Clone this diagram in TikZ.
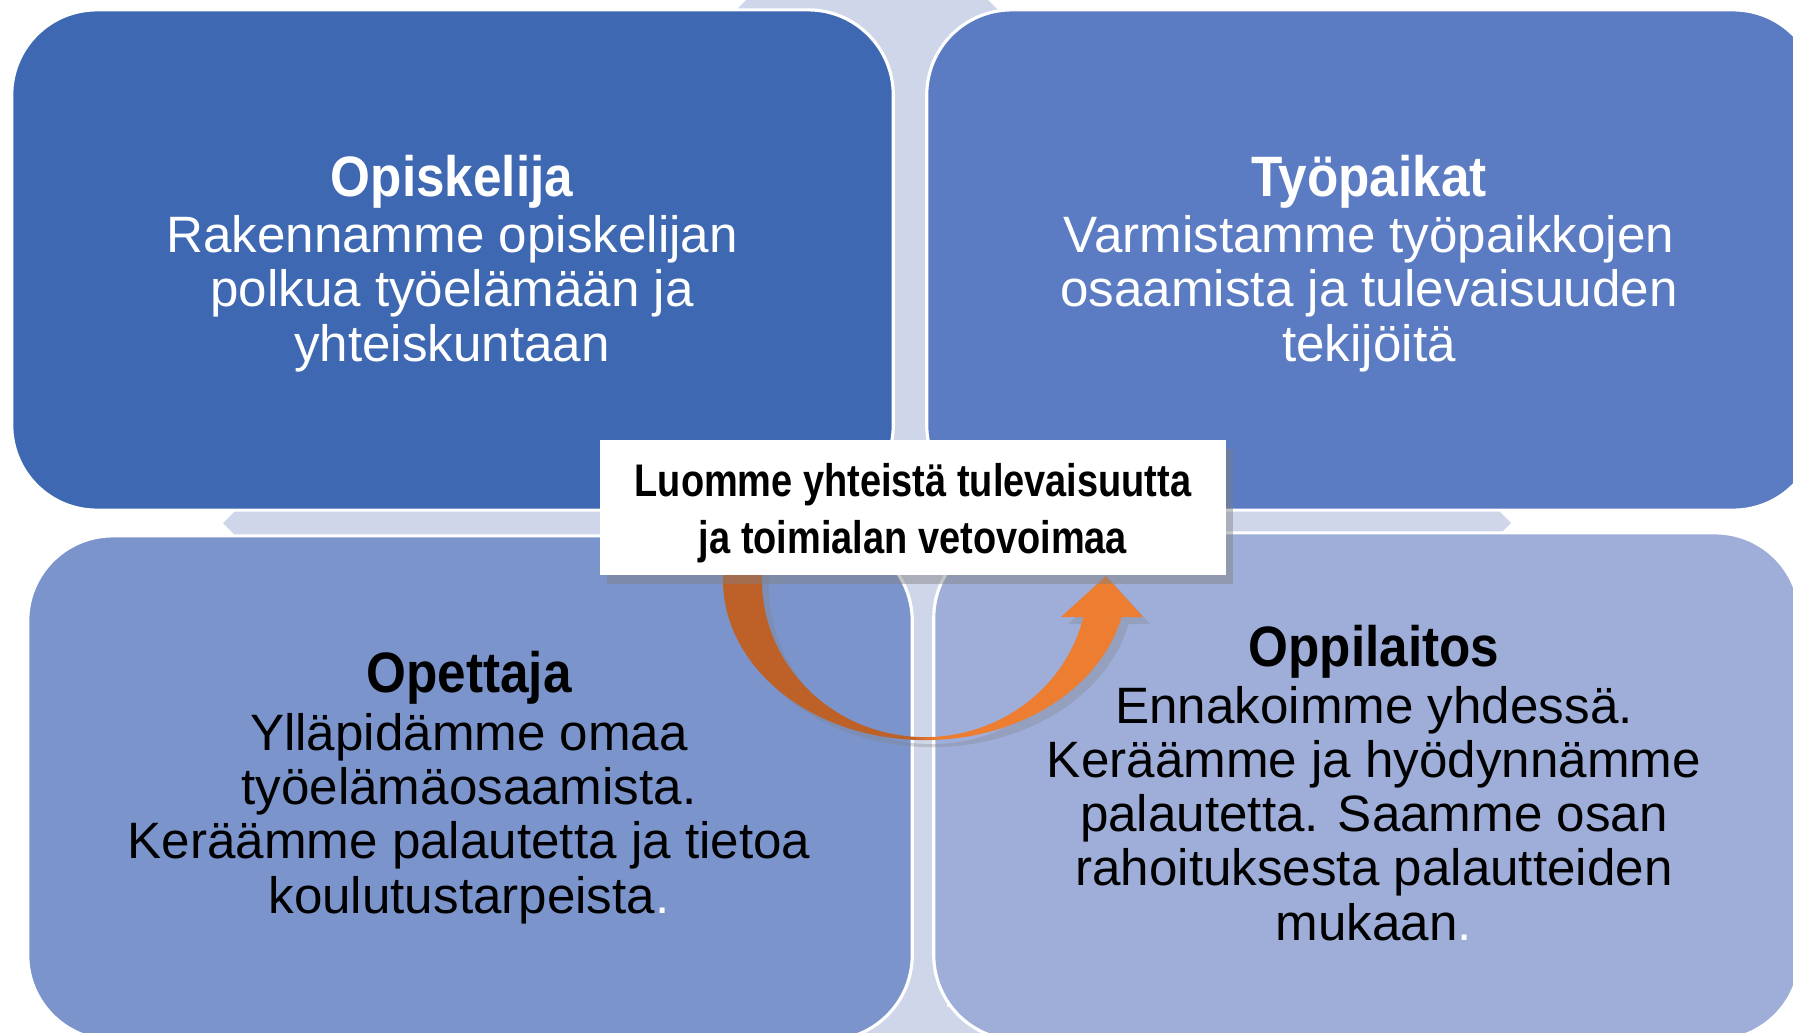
\documentclass[tikz,border=0pt]{standalone}
\usepackage{fontspec}
\setmainfont{Liberation Sans}
\newfontfamily\condfont[FakeStretch=0.9]{Liberation Sans}
\newfontfamily\narrowfont[FakeStretch=0.83]{Liberation Sans}
\usetikzlibrary{shadows}

\definecolor{tileA}{HTML}{3E68B1}
\definecolor{tileB}{HTML}{5B7BC3}
\definecolor{tileC}{HTML}{7B95CC}
\definecolor{tileD}{HTML}{9EAED8}
\definecolor{crossbg}{HTML}{CFD6EA}
\definecolor{arrowdark}{HTML}{BE6128}
\definecolor{arrowlight}{HTML}{ED7D31}
\pgfdeclarehorizontalshading{arrowshade}{100bp}{color(0bp)=(arrowdark); color(48bp)=(arrowdark); color(51bp)=(arrowlight); color(100bp)=(arrowlight)}

\newcommand{\bodytext}{\fontsize{14.55}{15.37}\selectfont}
\newcommand{\titletext}{\condfont\bfseries\fontsize{16.2}{16.2}\selectfont}
\newcommand{\centertext}{\narrowfont\bfseries\fontsize{13}{16.2}\selectfont}

\begin{document}
\begin{tikzpicture}[x=0.01cm, y=0.01cm,
	tile/.style={draw=white, line width=0.9pt, rounded corners=0.85cm, inner sep=0pt},
	blocktext/.style={align=center, anchor=base, font=\bodytext}]
	\useasboundingbox (0,0) rectangle (1793,1032);

	% Tausta
	\begin{scope}[shift={(867,509)}]
	\foreach \a in {0,90,180,270}
	{
	\fill[crossbg, rotate=\a] (0,-80) -- (484,-80) -- (484,-160) -- (644,0) -- (484,160) -- (484,80) -- (0,80) -- cycle;
	}
	\end{scope}

	% Laatat
	\node[tile, fill=tileA, minimum width=8.81cm, minimum height=5cm] (opiskelija) at (452.5,772) {};
	\node[tile, fill=tileB, minimum width=8.91cm, minimum height=5cm] (tyopaikat) at (1372.5,772) {};
	\node[tile, fill=tileC, minimum width=8.84cm, minimum height=5.04cm] (opettaja) at (470,244) {};
	\node[tile, fill=tileD, minimum width=8.66cm, minimum height=5.07cm] (oppilaitos) at (1367,245.5) {};

	% tekstit (ankkuri = viimeisen rivin perusviiva)
	\node[blocktext, text=white] (opiskelija-t) at (452,671)
	{{\titletext Opiskelija}\\[0.8pt] Rakennamme opiskelijan\\ polkua työelämään ja\\ yhteiskuntaan};
	\node[blocktext, text=white] (tyopaikat-t) at (1369,671)
	{{\titletext Työpaikat}\\[0.8pt] Varmistamme työpaikkojen\\ osaamista ja tulevaisuuden\\ tekijöitä};
	\node[blocktext] (opettaja-t) at (469,119)
	{{\titletext Opettaja}\\[1.2pt] Ylläpidämme omaa\\ työelämäosaamista.\\ Keräämme palautetta ja tietoa\\ koulutustarpeista\textcolor{white}{.}};
	\node[blocktext] (oppilaitos-t) at (1374,92)
	{{\titletext Oppilaitos}\\[0.8pt] Ennakoimme yhdessä.\\ Keräämme ja hyödynnämme\\ palautetta. Saamme osan\\ rahoituksesta palautteiden\\ mukaan\textcolor{white}{.}};

	% Nuoli
	\shade[shading=arrowshade, drop shadow={opacity=0.3, shadow xshift=2pt, shadow yshift=-2pt}]
	(724.3,470) arc[start angle=173.5, end angle=346.6, x radius=202, y radius=160] -- (1143,415) -- (1106,456) -- (1061,415)
	-- (1083.4,415) arc[start angle=346.4, end angle=173.4, x radius=163, y radius=157] -- cycle;

	% Keskus
	\node[fill=white, inner sep=0pt, minimum width=6.26cm, minimum height=1.35cm,
	drop shadow={opacity=0.45, shadow xshift=2pt, shadow yshift=-2.5pt}] (yhteinen) at (913,524.5) {};
	\node[align=center, anchor=base, font=\centertext] (yhteinen-t) at (913,479)
	{Luomme yhteistä tulevaisuutta\\ ja toimialan vetovoimaa};

\end{tikzpicture}
\end{document}
